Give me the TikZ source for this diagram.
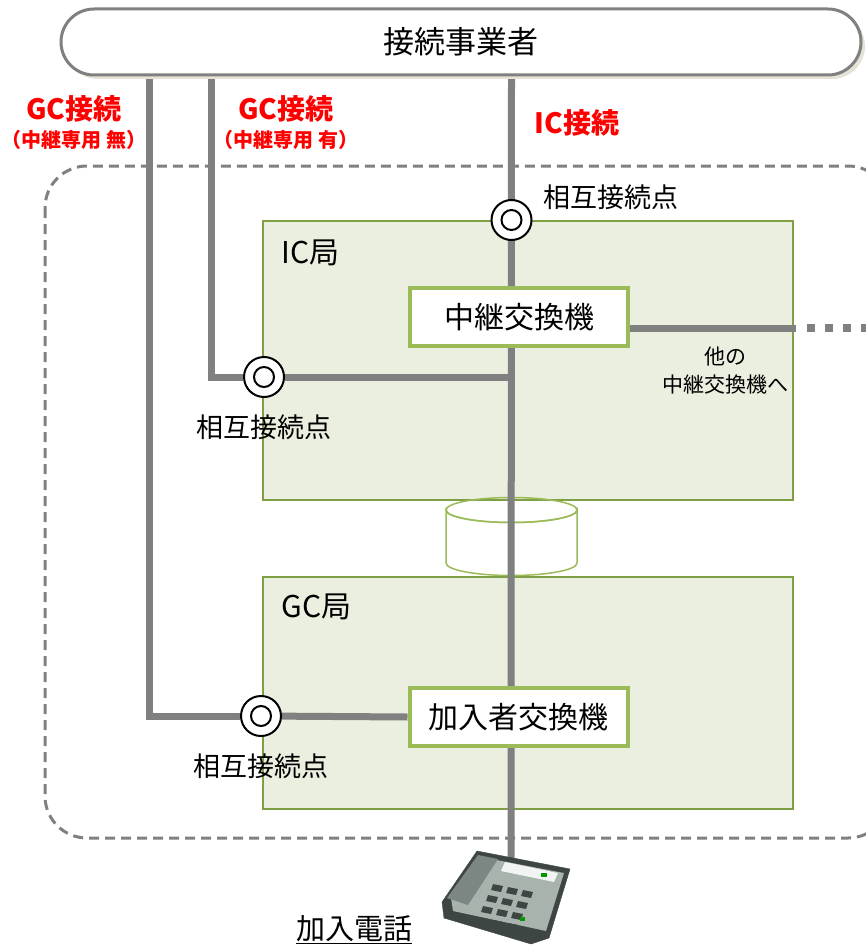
\documentclass[tikz,border=0pt]{standalone}
\usepackage{fontspec}
\setmainfont{Noto Sans CJK JP}
\usetikzlibrary{positioning,shadows,calc}
\definecolor{linegray}{HTML}{808080}
\definecolor{kyokufill}{HTML}{EBEFDF}
\definecolor{kyokuedge}{HTML}{7F9F45}
\definecolor{swedge}{HTML}{9BBB59}
\definecolor{shadowbeige}{HTML}{E6E2D6}
\definecolor{phonedark}{HTML}{3E4643}
\definecolor{phonemid}{HTML}{7C8783}
\definecolor{phonelight}{HTML}{A9B3AE}
\pgfdeclarelayer{back}
\pgfdeclarelayer{wire}
\pgfsetlayers{back,wire,main}

\begin{document}
\begin{tikzpicture}[x=1pt,y=-1pt,
  wire/.style={line width=7pt, draw=linegray},
  kyoku/.style={draw=kyokuedge, fill=kyokufill, line width=2pt, inner sep=0pt, minimum width=530pt, anchor=north west},
  koukanki/.style={draw=swedge, fill=white, line width=4pt, inner sep=0pt, minimum width=218pt, minimum height=58pt, font=\fontsize{30}{34}\selectfont},
  setten/.style={circle, draw=black, fill=white, line width=2pt, minimum size=40pt, inner sep=0pt,
    path picture={\draw[line width=2pt] (path picture bounding box.center) circle[radius=10pt];}},
  tenlbl/.style={font=\fontsize{27}{30}\selectfont},
  kyokulbl/.style={anchor=west, font=\fontsize{30}{34}\selectfont},
  redlbl/.style={text=red, font=\bfseries\fontsize{28}{32}\selectfont},
  redsub/.style={text=red, font=\bfseries\fontsize{20}{22}\selectfont}]
\useasboundingbox (0,0) rectangle (866,947);

\node[draw=linegray, line width=3pt, fill=white, rounded corners=33pt, minimum width=800pt, minimum height=66pt,
  drop shadow={shadow xshift=4pt, shadow yshift=-4pt, fill=shadowbeige, opacity=1},
  font=\fontsize{31}{34}\selectfont] (jigyosha) at (461,42) {接続事業者};

\begin{pgfonlayer}{back}
\begin{scope}
\clip (0,0) rectangle (866,947);
\draw[linegray, line width=3pt, dash pattern=on 10pt off 6pt, rounded corners=42pt] (45,166) rectangle (890,838);
\end{scope}
\node[kyoku, minimum height=279pt] (ickyoku) at (262,220) {};
\node[kyoku, minimum height=232pt] (gckyoku) at (262,576) {};
\filldraw[fill=white, draw=swedge, line width=1.5pt] (446,510) -- (446,563) arc[start angle=180, end angle=0, x radius=65.5, y radius=12.5] -- (577,510) arc[start angle=0, end angle=180, x radius=65.5, y radius=12.5] -- cycle;
\draw[swedge, line width=1.5pt] (511.5,510) ellipse[x radius=65.5, y radius=12.5];
\end{pgfonlayer}

\node[kyokulbl] (iclbl) at (278,253) {IC局};
\node[kyokulbl] (gclbl) at (278,607) {GC局};

\node[koukanki] (chukei) at (519,317) {中継交換機};
\node[koukanki] (kanyu) at (518.5,717) {加入者交換機};

\node[setten] (topten) at (511.5,220) {};
\node[setten] (icten) at (264,377) {};
\node[setten] (gcten) at (261,716) {};

\coordinate (gcbend) at (149,716);
\coordinate (icbend) at (211,377);
\coordinate (phone) at (511,862);
\coordinate (dotstart) at (796,328);
\coordinate (dotend) at (866,328);

\begin{pgfonlayer}{wire}
\draw[wire] (jigyosha.south -| gcbend) -- (gcbend) -- (gcten);
\draw[wire] (gcten) -- (kanyu.west);
\draw[wire] (jigyosha.south -| icbend) -- (icbend) -- (icten);
\draw[wire] (icten) -- (icten -| topten);
\draw[wire] (jigyosha.south -| topten) -- (phone);
\draw[wire] (chukei.east |- dotstart) -- (dotstart);
\draw[wire, line width=8pt, dash pattern=on 8pt off 10pt] ([xshift=11pt]dotstart) -- (dotend);
\end{pgfonlayer}

\node[tenlbl] (toplbl) at (611,197) {相互接続点};
\node[tenlbl, below=13pt of icten] (iclbl2) {相互接続点};
\node[tenlbl, below=13pt of gcten] (gclbl2) {相互接続点};
\node[align=center, font=\fontsize{21}{28}\selectfont] (hoka) at (725,371) {他の\\中継交換機へ};

\node[redlbl] (gcmu) at (74,109) {GC接続};
\node[redsub] (gcmusub) at (74,140) {（中継専用 無）};
\node[redlbl] (gcyu) at (286,109) {GC接続};
\node[redsub] (gcyusub) at (286,140) {（中継専用 有）};
\node[redlbl] (icsetsu) at (577,123) {IC接続};

\filldraw[fill=phonedark, draw=phonedark] (442,902) -- (477,851) -- (570,869) -- (549,938) -- (531,944) -- (444,918) -- cycle;
\fill[phonelight] (451,898) -- (481,857) -- (564,873) -- (546,931) -- (453,911) -- cycle;
\fill[phonemid] (447,898) -- (478,855) -- (498,859) -- (468,905) -- cycle;
\fill[white!85!phonelight] (505,862) -- (558,873) -- (554,882) -- (501,871) -- cycle;
\fill[green!60!black] (541,873) rectangle (547,877);
\foreach \i in {0,...,3}
  \foreach \j in {0,...,2}
    \fill[phonedark] ($(493,884)+\i*(-5,11)+\j*(15,3)$) -- ++(10,2) -- ++(-2,6) -- ++(-10,-2) -- cycle;
\fill[green!60!black] (520,917) rectangle (525,921);

\node[font=\fontsize{29}{32}\selectfont] (kanyuden) at (354,930) {\underline{加入電話}};
\end{tikzpicture}
\end{document}
